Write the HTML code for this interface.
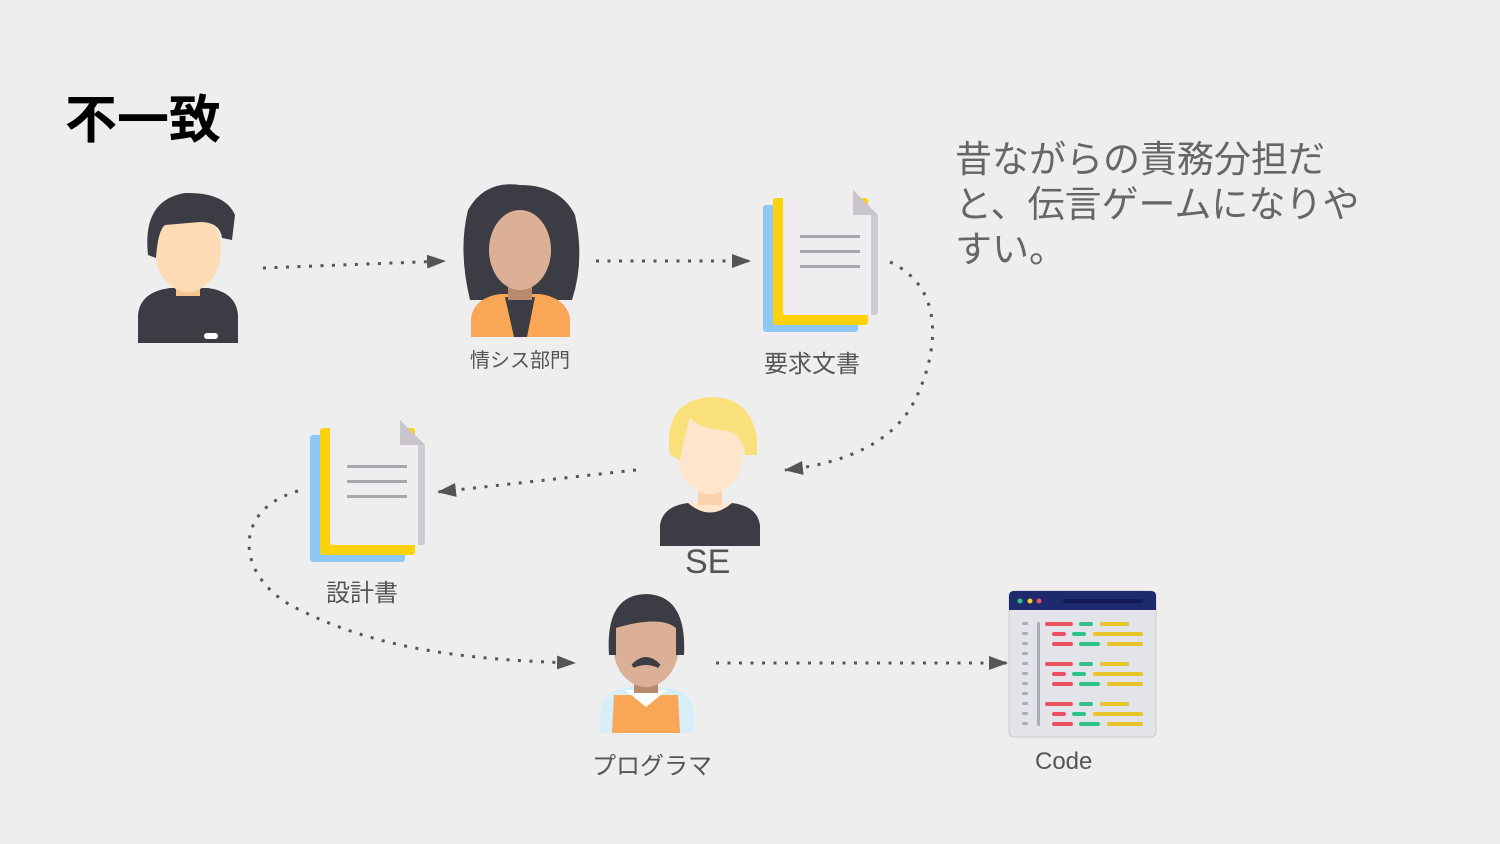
<!DOCTYPE html>
<html><head><meta charset="utf-8"><style>
html,body{margin:0;padding:0;background:#eeeeee;}
body{width:1500px;height:844px;overflow:hidden;position:relative;font-family:"Liberation Sans","Noto Sans CJK JP",sans-serif;}
.t{position:absolute;white-space:nowrap;color:#555;}
</style></head><body>
<svg width="1500" height="844" style="position:absolute;left:0;top:0">
<defs>
<marker id="ah" markerWidth="20" markerHeight="16" refX="18" refY="7" orient="auto" markerUnits="userSpaceOnUse" viewBox="0 0 20 16">
<path d="M0,0 L19,7 L0,14 z" fill="#555"/></marker>
<g id="doc">
<rect x="0" y="15" width="95" height="127" rx="3" fill="#8ec9f5"/>
<rect x="10" y="8" width="95" height="127" rx="3" fill="#fcd20f"/>
<path d="M20 3 Q20 0 23 0 L90 0 L115 25 L115 122 Q115 125 112 125 L23 125 Q20 125 20 122 Z" fill="#efedf0"/>
<path d="M108 25 L115 25 L115 122 Q115 125 112 125 L108 125 Z" fill="#d0ccd4"/>
<path d="M90 0 L115 25 L90 25 Z" fill="#c9c4cc"/>
<rect x="37" y="45" width="60" height="3" fill="#aaa6ae"/>
<rect x="37" y="60" width="60" height="3" fill="#aaa6ae"/>
<rect x="37" y="75" width="60" height="3" fill="#aaa6ae"/>
</g>
</defs>
<g fill="none" stroke="#555" stroke-width="3" stroke-dasharray="3 8.5" marker-end="url(#ah)">
<path d="M263 268 L445 261"/>
<path d="M596 261 L750 261"/>
<path d="M890 262 C950 290 935 360 915 400 C890 450 830 465 785 470"/>
<path d="M636 470 L438 492"/>
<path d="M298 491 C230 510 235 580 300 610 C380 650 470 660 575 663"/>
<path d="M716 663 L1007 663"/>
</g>
<path d="M138 343 L138 315 Q140 292 170 288 L208 288 Q236 292 238 315 L238 343 Z" fill="#3c3c44"/>
<rect x="176" y="282" width="24" height="14" fill="#f6c48e"/>
<rect x="204" y="333" width="14" height="6" rx="3" fill="#fff"/>
<ellipse cx="188" cy="250" rx="33" ry="42" fill="#fddcb5"/>
<path d="M148 255 Q142 200 185 193 Q225 192 235 215 L232 240 L222 238 Q220 222 200 222 L165 225 Q158 230 156 258 Z" fill="#3c3c44"/>
<path d="M470 300 Q458 250 468 210 Q485 180 520 185 Q560 185 575 215 Q585 260 572 300 Z" fill="#3c3c44"/>
<path d="M471 337 L471 318 Q474 298 500 294 L540 294 Q566 298 570 318 L570 337 Z" fill="#f9a756"/>
<path d="M505 297 L535 297 L527 337 L514 337 Z" fill="#3c3c44"/>
<rect x="508" y="280" width="24" height="20" fill="#b88a6e"/>
<ellipse cx="520" cy="250" rx="31" ry="40" fill="#dbb097"/>
<path d="M488 240 Q490 205 520 205 Q548 207 553 235 L553 215 Q540 195 520 195 Q495 196 487 220 Z" fill="#3c3c44"/>
<use href="#doc" x="763" y="190"/>
<use href="#doc" x="310" y="420"/>
<path d="M660 546 L660 525 Q663 506 688 503 L732 503 Q757 506 760 525 L760 546 Z" fill="#3c3c44"/>
<path d="M688 503 Q710 522 732 503 Z" fill="#fde6cc"/>
<rect x="698" y="485" width="24" height="20" fill="#f9d3ac"/>
<ellipse cx="710" cy="452" rx="33" ry="42" fill="#fde6cc"/>
<path d="M670 455 Q662 400 712 397 Q752 398 757 440 L757 455 L745 455 Q742 430 720 430 Q700 428 690 418 Q685 435 680 460 Z" fill="#f9e07a"/>
<path d="M600 733 L600 712 Q603 690 630 687 L664 687 Q691 690 694 712 L694 733 Z" fill="#d6eef7"/>
<path d="M612 733 L614 695 L678 695 L680 733 Z" fill="#f9a756"/>
<path d="M625 690 L646 707 L667 690 Z" fill="#fff"/>
<rect x="634" y="675" width="24" height="18" fill="#b88a6e"/>
<ellipse cx="646" cy="645" rx="33" ry="42" fill="#dbb097"/>
<path d="M609 655 Q605 595 646 594 Q687 595 684 655 L676 655 L676 628 Q660 615 616 628 L616 655 Z" fill="#3c3c44"/>
<path d="M633 666 Q646 652 659 666 Q646 660 633 666 Z" fill="#3c3c44" stroke="#3c3c44" stroke-width="4"/>
<rect x="1009" y="591" width="147" height="146" rx="5" fill="#e3e3ea" stroke="#ccc"/>
<path d="M1009 610 L1009 596 Q1009 591 1014 591 L1151 591 Q1156 591 1156 596 L1156 610 Z" fill="#1e2a6e"/>
<circle cx="1020" cy="601" r="2.5" fill="#35c28a"/><circle cx="1030" cy="601" r="2.5" fill="#f2d024"/><circle cx="1039" cy="601" r="2.5" fill="#e8546a"/>
<rect x="1063" y="599" width="80" height="4" rx="2" fill="#111a55"/>
<rect x="1037" y="622" width="3" height="104" rx="1.5" fill="#a9adb8"/>
<g fill="#a9adb8">
<rect x="1022" y="622" width="6" height="3" rx="1.5"/><rect x="1022" y="632" width="6" height="3" rx="1.5"/><rect x="1022" y="642" width="6" height="3" rx="1.5"/><rect x="1022" y="652" width="6" height="3" rx="1.5"/><rect x="1022" y="662" width="6" height="3" rx="1.5"/><rect x="1022" y="672" width="6" height="3" rx="1.5"/><rect x="1022" y="682" width="6" height="3" rx="1.5"/><rect x="1022" y="692" width="6" height="3" rx="1.5"/><rect x="1022" y="702" width="6" height="3" rx="1.5"/><rect x="1022" y="712" width="6" height="3" rx="1.5"/><rect x="1022" y="722" width="6" height="3" rx="1.5"/>
</g>
<g id="blk">
<rect x="1045" y="622" width="28" height="4" rx="2" fill="#ec5060"/><rect x="1079" y="622" width="14" height="4" rx="2" fill="#2fc18a"/><rect x="1100" y="622" width="29" height="4" rx="2" fill="#e8c42a"/>
<rect x="1052" y="632" width="14" height="4" rx="2" fill="#ec5060"/><rect x="1072" y="632" width="14" height="4" rx="2" fill="#2fc18a"/><rect x="1093" y="632" width="50" height="4" rx="2" fill="#e8c42a"/>
<rect x="1052" y="642" width="21" height="4" rx="2" fill="#ec5060"/><rect x="1079" y="642" width="21" height="4" rx="2" fill="#2fc18a"/><rect x="1107" y="642" width="36" height="4" rx="2" fill="#e8c42a"/>
</g>
<use href="#blk" y="40"/><use href="#blk" y="80"/>
</svg>
<div class="t" style="left:65px;top:78px;font-size:52px;font-weight:bold;color:#000;">不一致</div>
<div class="t" style="left:955px;top:137px;font-size:37px;line-height:45px;color:#666;">昔ながらの責務分担だ<br>と、伝言ゲームになりや<br>すい。</div>
<div class="t" style="left:470px;top:344px;font-size:20px;">情シス部門</div>
<div class="t" style="left:764px;top:344px;font-size:24px;">要求文書</div>
<div class="t" style="left:685px;top:543px;font-size:34px;">SE</div>
<div class="t" style="left:326px;top:573px;font-size:24px;">設計書</div>
<div class="t" style="left:592px;top:746px;font-size:24px;">プログラマ</div>
<div class="t" style="left:1035px;top:748px;font-size:24px;">Code</div>
</body></html>
